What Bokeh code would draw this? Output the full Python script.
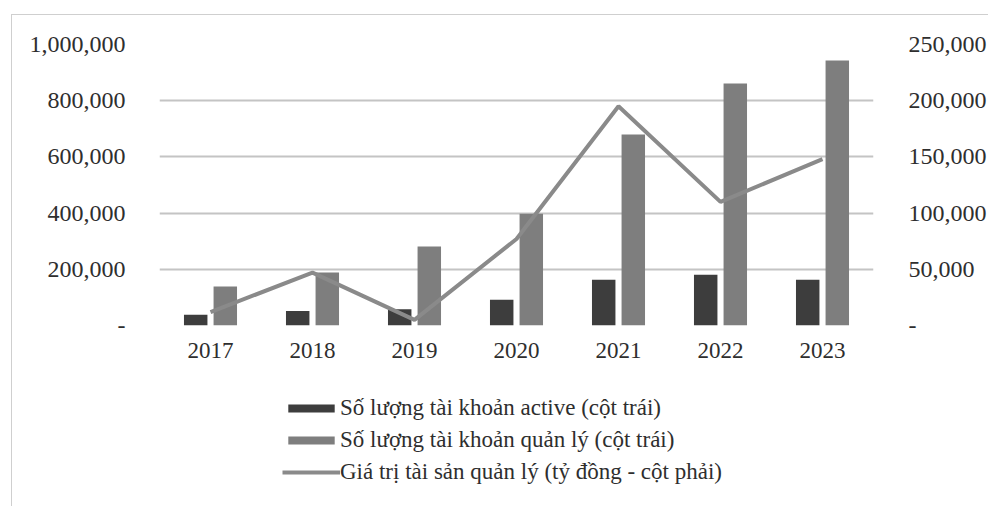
from bokeh.plotting import figure
from bokeh.layouts import column
from bokeh.models import Range1d, LinearAxis, NumeralTickFormatter, FixedTicker, Legend, LegendItem, ColumnDataSource, FactorRange
from bokeh.transform import dodge
from bokeh.embed import file_html
from bokeh.resources import INLINE

years = ["2017", "2018", "2019", "2020", "2021", "2022", "2023"]
active_accounts = [38000, 52000, 58000, 92000, 163000, 181000, 163000]
managed_accounts = [139000, 189000, 281000, 398000, 680000, 861000, 943000]
aum = [12000, 47000, 5000, 77000, 195000, 110000, 148000]

left_ticks = [0, 200000, 400000, 600000, 800000, 1000000]
right_ticks = [0, 50000, 100000, 150000, 200000, 250000]

label_active = "Số lượng tài khoản active (cột trái)"
label_managed = "Số lượng tài khoản quản lý (cột trái)"
label_aum = "Giá trị tài sản quản lý (tỷ đồng - cột phải)"

FONT = "Liberation Serif"
TXT = "#2e2e2e"
C_ACTIVE = "#3d3d3d"
C_MANAGED = "#7e7e7e"
C_LINE = "#8a8a8a"
BORDER = "1px solid #cfcfcf"

src = ColumnDataSource(dict(year=years, active=active_accounts, managed=managed_accounts, aum=aum))

p = figure(width=977, height=360, x_range=FactorRange(*years), y_range=Range1d(0, 1000000),
           output_backend="svg", toolbar_location=None,
           min_border_left=147, min_border_right=110, min_border_top=29, min_border_bottom=50,
           background_fill_color="#ffffff", border_fill_color="#ffffff")
p.styles = {"border-left": BORDER, "border-top": BORDER}
p.outline_line_color = None
p.extra_y_ranges = {"right": Range1d(0, 250000)}

p.vbar(x=dodge("year", -0.145, range=p.x_range), top="active", width=0.23, source=src,
       fill_color=C_ACTIVE, line_color=None)
p.vbar(x=dodge("year", 0.145, range=p.x_range), top="managed", width=0.23, source=src,
       fill_color=C_MANAGED, line_color=None)
p.line(x="year", y="aum", source=src, y_range_name="right", line_color=C_LINE, line_width=4)

p.xgrid.grid_line_color = None
p.ygrid.ticker = FixedTicker(ticks=left_ticks)
p.ygrid.grid_line_color = "#c4c4c4"
p.ygrid.grid_line_width = 2

def style_axis(ax, size):
    ax.axis_line_color = None
    ax.major_tick_line_color = None
    ax.minor_tick_line_color = None
    ax.major_label_text_font = FONT
    ax.major_label_text_font_size = size
    ax.major_label_text_color = TXT

yl = p.yaxis[0]
yl.ticker = FixedTicker(ticks=left_ticks)
yl.formatter = NumeralTickFormatter(format="0,0")
yl.major_label_overrides = {0: "-"}
yl.major_label_standoff = 28
style_axis(yl, "24px")

yr = LinearAxis(y_range_name="right", ticker=FixedTicker(ticks=right_ticks),
                formatter=NumeralTickFormatter(format="0,0"))
yr.major_label_overrides = {0: "-"}
yr.major_label_standoff = 29
style_axis(yr, "24px")
p.add_layout(yr, "right")

xa = p.xaxis[0]
style_axis(xa, "23px")
xa.major_label_standoff = 11

# legend panel: renderers use a range without the data's factors, so only the legend entries show
p2 = figure(width=977, height=132, output_backend="svg", toolbar_location=None,
            x_range=FactorRange("legend"), y_range=Range1d(-10, -5),
            x_axis_location=None, y_axis_location=None,
            min_border=0, background_fill_color="#ffffff", border_fill_color="#ffffff")
p2.styles = {"border-left": BORDER}
p2.outline_line_color = None
p2.grid.visible = False
l1 = p2.vbar(x="year", top="active", width=0.2, source=src, fill_color=C_ACTIVE, line_color=None)
l2 = p2.vbar(x="year", top="managed", width=0.2, source=src, fill_color=C_MANAGED, line_color=None)
l3 = p2.line(x="year", y="aum", source=src, line_color=C_LINE, line_width=4)

legend = Legend(items=[LegendItem(label=label_active, renderers=[l1]),
                       LegendItem(label=label_managed, renderers=[l2]),
                       LegendItem(label=label_aum, renderers=[l3])],
                location=(123, 21), orientation="vertical",
                padding=0, margin=0, spacing=6, label_height=22,
                glyph_width=58, glyph_height=10, label_standoff=0,
                label_text_font=FONT, label_text_font_size="23px", label_text_color=TXT,
                border_line_color=None, background_fill_alpha=0)
p2.add_layout(legend, "center")

layout = column(p, p2, spacing=0)
layout.margin = (14, 0, 0, 11)

open("out.html", "w").write(file_html(layout, INLINE))
